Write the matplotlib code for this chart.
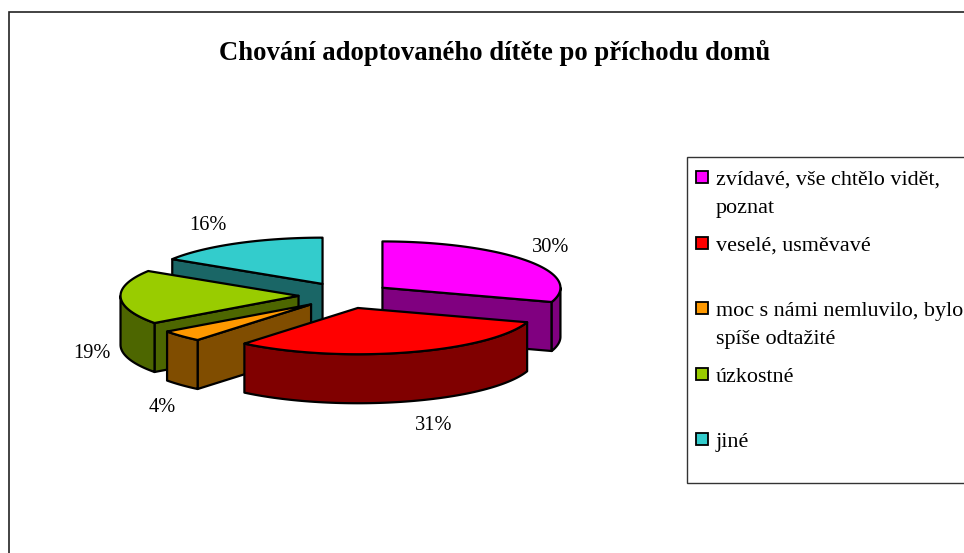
import numpy as np
import matplotlib
matplotlib.use("Agg")
import matplotlib.pyplot as plt
from matplotlib.patches import Rectangle, Polygon

title = "Chování adoptovaného dítěte po příchodu domů"
categories = ["zvídavé, vše chtělo vidět,\npoznat", "veselé, usměvavé",
              "moc s námi nemluvilo, bylo\nspíše odtažité", "úzkostné", "jiné"]
values = [30, 31, 4, 19, 16]
top_colors = ["#FF00FF", "#FF0000", "#FF9900", "#99CC00", "#33CCCC"]
side_colors = ["#800080", "#800000", "#804D00", "#4D6600", "#1A6666"]
draw_order = [4, 0, 3, 2, 1]
label_pos = [(551, 247), (434, 425), (162, 408), (92, 354), (208, 226)]
legend_y = [177, 243, 308, 374, 439]

CX, CY, A, RATIO, EXPLODE, DEPTH = 344.9, 295.4, 178.0, 0.26, 46.4, 49.0
EXPL_RATIO = 0.282
plt.rcParams["font.family"] = ["Liberation Serif", "DejaVu Serif"]

fig = plt.figure(figsize=(9.64, 5.53), dpi=100, facecolor="white")
ax = fig.add_axes([0, 0, 1, 1])
ax.set_xlim(0, 964)
ax.set_ylim(553, 0)
ax.axis("off")

ax.add_patch(Rectangle((8.5, 11.5), 1000, 600, fc="white", ec="#222222", lw=1.2))

fr = np.cumsum([0] + values) / sum(values) * 2 * np.pi
LW = 1.6

def pt(cx, cy, t, dz=0.0):
    return cx + A * np.sin(t), cy - A * RATIO * np.cos(t) + dz

def face(pts, color, z):
    ax.add_patch(Polygon(pts, closed=True, fc=color, ec="black", lw=LW, joinstyle="round", zorder=z))

z = 3
for i in draw_order:
    t0, t1 = fr[i], fr[i + 1]
    mid = (t0 + t1) / 2
    cx = CX + EXPLODE * np.sin(mid)
    cy = CY - EXPLODE * EXPL_RATIO * np.cos(mid)
    radial = []
    if np.sin(t0) < -1e-6:
        radial.append(t0)
    if np.sin(t1) > 1e-6:
        radial.append(t1)
    for t in radial:
        p = pt(cx, cy, t)
        face([(cx, cy), p, (p[0], p[1] + DEPTH), (cx, cy + DEPTH)], side_colors[i], z)
        z += 1
    a0, a1 = max(t0, np.pi / 2), min(t1, 3 * np.pi / 2)
    if a1 > a0:
        ts = np.linspace(a0, a1, 80)
        xs, ys = pt(cx, cy, ts)
        face(list(zip(xs, ys)) + list(zip(xs[::-1], ys[::-1] + DEPTH)), side_colors[i], z)
        z += 1
    ts = np.linspace(t0, t1, 120)
    xs, ys = pt(cx, cy, ts)
    face([(cx, cy)] + list(zip(xs, ys)), top_colors[i], z)
    z += 1

for v, (x, y) in zip(values, label_pos):
    ax.text(x, y, f"{v}%", ha="center", va="center", fontsize=14.7, color="black", zorder=50)

ax.text(495, 53, title, ha="center", va="center", fontsize=19.2, fontweight="bold", color="black")

ax.add_patch(Rectangle((687, 157), 400, 326, fc="white", ec="#333333", lw=1.0, zorder=1))
for name, col, y in zip(categories, top_colors, legend_y):
    ax.add_patch(Rectangle((696, y - 6), 12, 12, fc=col, ec="black", lw=1.3, zorder=2))
    ax.text(715.5, y - 6, name, ha="left", va="top", fontsize=15.9, linespacing=1.65, color="black", zorder=2)

fig.savefig("out.png", dpi=100, facecolor="white")
